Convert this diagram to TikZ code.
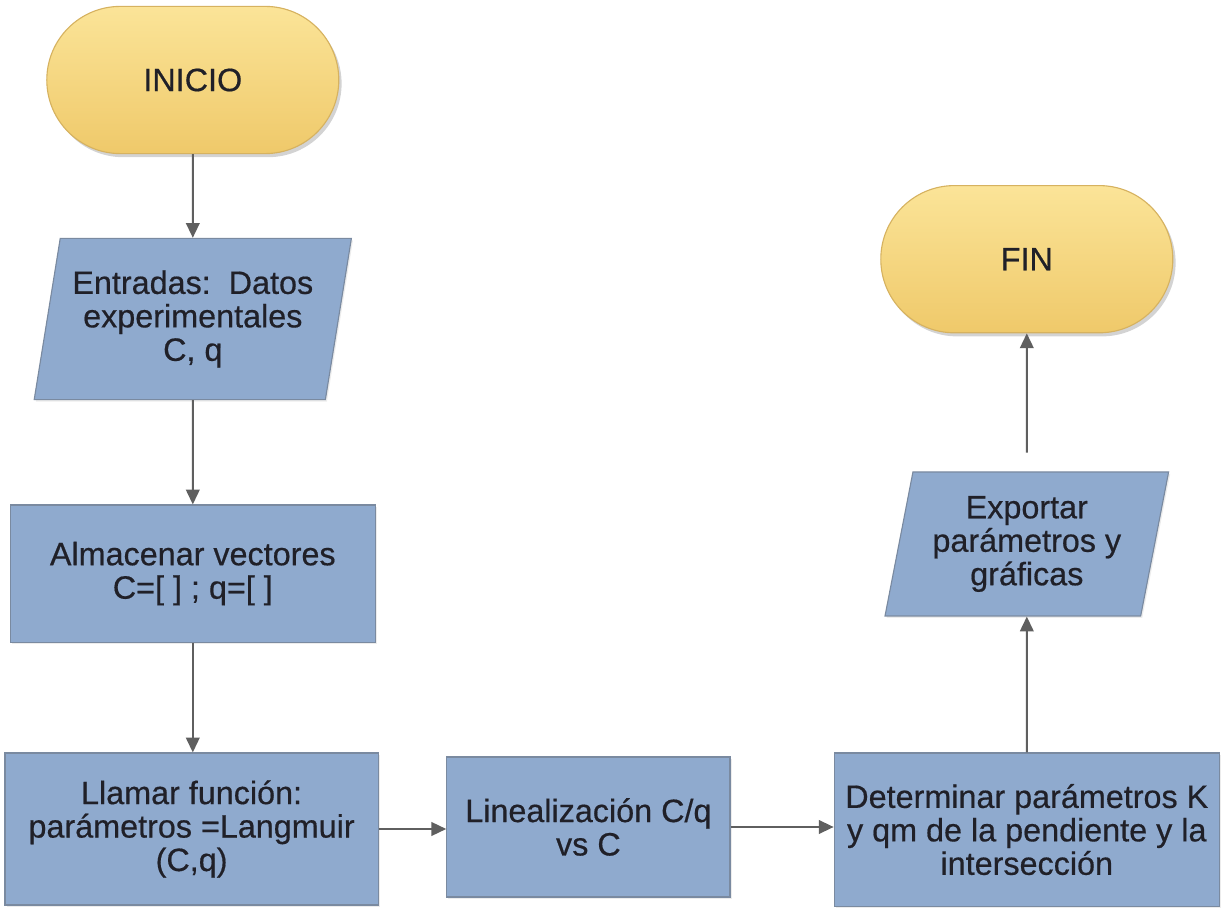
\documentclass[tikz,border=0pt]{standalone}
\usepackage{fontspec}
\setmainfont{Liberation Sans}
\newfontfamily\flowfont[FakeBold=0.5]{Liberation Sans}
\usepackage{xcolor}
\usepackage{tikz}
\usetikzlibrary{positioning,arrows.meta,shapes.geometric,shadows}
\definecolor{termtop}{RGB}{251, 228, 152}
\definecolor{termbottom}{RGB}{239, 201, 106}
\definecolor{termborder}{RGB}{214, 178, 96}
\definecolor{procfill}{RGB}{143, 170, 206}
\definecolor{procborder}{RGB}{122, 138, 160}
\definecolor{flowline}{RGB}{95, 95, 95}
\definecolor{flowtext}{RGB}{32, 32, 40}
\tikzset{
    flow text/.style={text=flowtext, align=center, font=\flowfont\fontsize{23}{23.8}\selectfont},
    terminal/.style={flow text, rectangle, rounded corners=1.84cm, draw=termborder, line width=0.8pt,
        top color=termtop, bottom color=termbottom, minimum width=7.3cm, minimum height=3.68cm,
        drop shadow={shadow xshift=0.07cm, shadow yshift=-0.09cm, opacity=0.35}},
    process/.style={flow text, rectangle, draw=procborder, line width=0.8pt, fill=procfill,
        drop shadow={shadow xshift=0.04cm, shadow yshift=-0.05cm, opacity=0.15}},
    io box/.style={process, trapezium, trapezium left angle=77, trapezium right angle=103,
        trapezium stretches=true},
    flow arrow/.style={-{Triangle[width=0.34cm, length=0.37cm]}, line width=1.4pt, draw=flowline}
}

\begin{document}
\begin{tikzpicture}
    \useasboundingbox (0,0) rectangle (30.8,22.8);

    % Start
    \node[terminal] (inicio) at (4.82,20.8) {INICIO};

    % Left column
    \node[io box, minimum width=7.95cm, minimum height=4.03cm] (entradas) at (4.82,14.825)
        {Entradas:\ \ Datos\\experimentales\\C, q};
    \node[process, minimum width=9.125cm, minimum height=3.43cm] (almacenar) at (4.82,8.46)
        {Almacenar vectores\\C=[ ] ; q=[ ]};
    \node[process, minimum width=9.33cm, minimum height=3.8cm] (llamar) at (4.79,2.075)
        {Llamar función:\\parámetros =Langmuir\\(C,q)};

    % Bottom row
    \node[process, minimum width=7.08cm, minimum height=3.5cm] (lineal) at (14.71,2.125)
        {Linealización C/q\\vs C};
    \node[process, minimum width=9.63cm, minimum height=3.83cm] (determinar) at (25.67,2.06)
        {Determinar parámetros K\\y qm de la pendiente y la\\intersección};

    % Right column
    \node[io box, minimum width=7.1cm, minimum height=3.6cm] (exportar) at (25.67,9.2)
        {Exportar\\parámetros y\\gráficas};
    \node[terminal] (fin) at (25.67,16.32) {FIN};

    % Connectors
    \draw[flow arrow] (inicio.south) -- (entradas.north);
    \draw[flow arrow] (entradas.south) -- (almacenar.north);
    \draw[flow arrow] (almacenar.south) -- (almacenar.south |- llamar.north);
    \draw[flow arrow] (llamar.east) -- (llamar.east -| lineal.west);
    \draw[flow arrow] (lineal.east) -- (lineal.east -| determinar.west);
    \draw[flow arrow] (determinar.north) -- (exportar.south);
    \draw[flow arrow, shorten <=0.47cm] (exportar.north) -- (fin.south);
\end{tikzpicture}
\end{document}
